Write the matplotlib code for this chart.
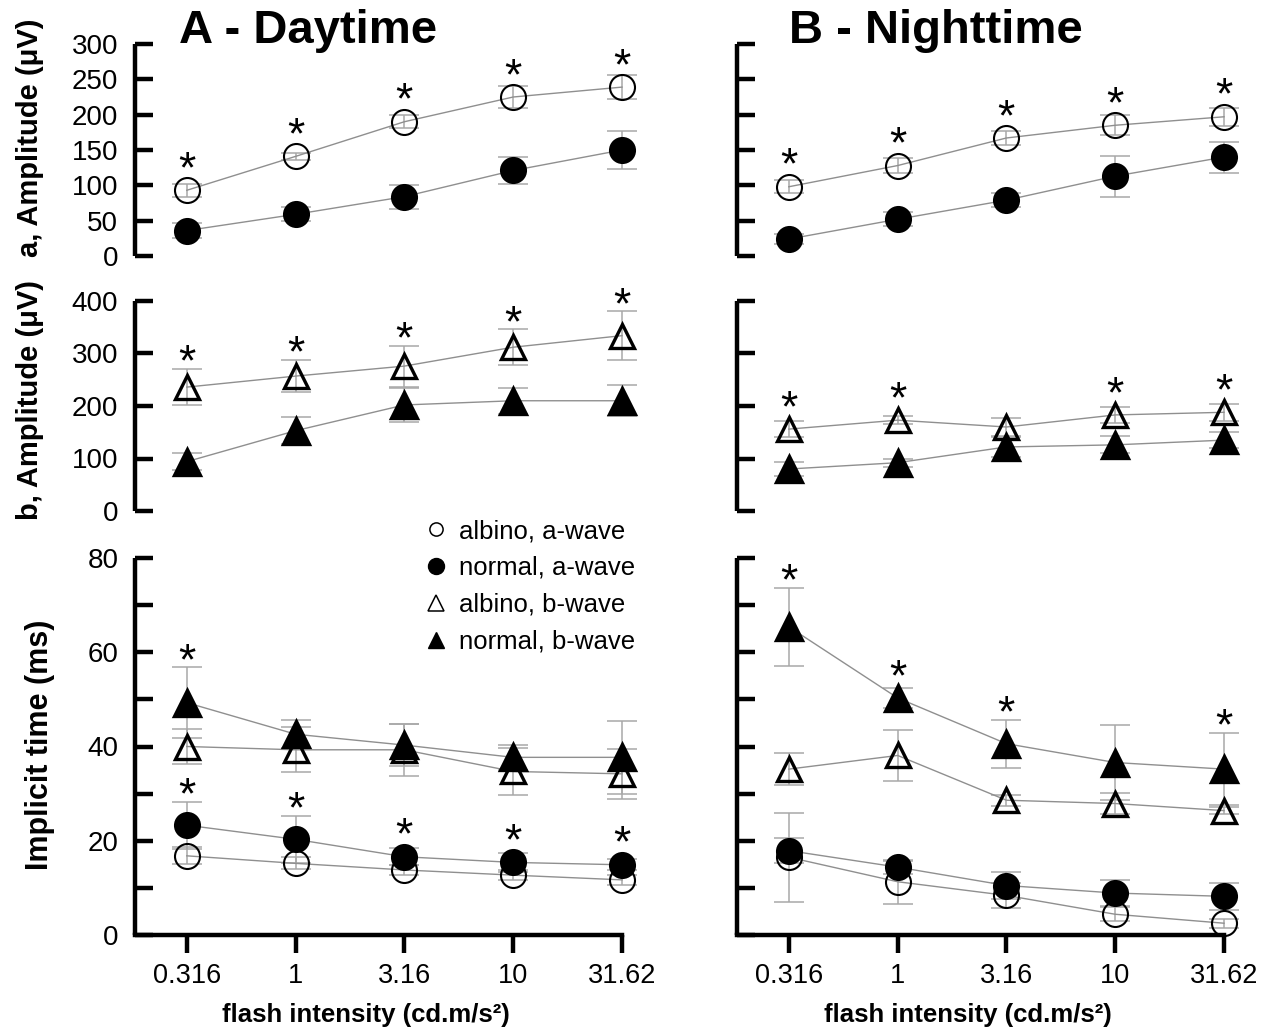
import numpy as np
import matplotlib
matplotlib.use('Agg')
import matplotlib.pyplot as plt
from matplotlib.lines import Line2D

# ---------------- data ----------------
intensity = [0.316, 1, 3.16, 10, 31.62]
intensity_labels = ['0.316', '1', '3.16', '10', '31.62']

# a-wave amplitude (uV)
day_a_albino = [93, 141, 190, 225, 239]
day_a_albino_err = [9, 5, 9, 15, 17]
day_a_normal = [36, 59, 84, 121, 150]
day_a_normal_err = [10, 10, 17, 19, 27]
night_a_albino = [98, 128, 167, 185, 197]
night_a_albino_err = [9, 10, 10, 14, 13]
night_a_normal = [24, 52, 79, 113, 140]
night_a_normal_err = [7, 10, 10, 29, 22]

# b-wave amplitude (uV)
day_b_albino = [236, 257, 276, 312, 334]
day_b_albino_err = [35, 31, 39, 34, 46]
day_b_normal = [94, 153, 202, 210, 210]
day_b_normal_err = [16, 26, 33, 25, 30]
night_b_albino = [156, 173, 160, 183, 188]
night_b_albino_err = [15, 8, 17, 15, 16]
night_b_normal = [80, 92, 122, 126, 135]
night_b_normal_err = [14, 8, 19, 16, 15]

# implicit time (ms)
it_day_a_albino = [16.8, 15.2, 13.8, 12.7, 11.7]
it_day_a_albino_err = [1.8, 1.3, 1.0, 1.0, 1.0]
it_day_a_normal = [23.3, 20.3, 16.6, 15.4, 14.9]
it_day_a_normal_err = [5.0, 5.0, 1.8, 2.0, 1.2]
it_day_b_albino = [40.0, 39.3, 39.3, 34.7, 34.2]
it_day_b_albino_err = [3.8, 4.8, 5.5, 5.0, 5.3]
it_day_b_normal = [49.3, 42.6, 40.3, 37.7, 37.7]
it_day_b_normal_err = [7.6, 3.0, 4.5, 2.7, 7.8]
it_night_a_albino = [16.5, 11.3, 8.4, 4.4, 2.5]
it_night_a_albino_err = [9.4, 4.7, 2.6, 1.5, 1.0]
it_night_a_normal = [17.9, 14.4, 10.5, 8.9, 8.2]
it_night_a_normal_err = [2.6, 1.4, 2.8, 2.8, 2.8]
it_night_b_albino = [35.2, 38.1, 28.6, 27.9, 26.4]
it_night_b_albino_err = [3.4, 5.4, 1.2, 2.2, 0.7]
it_night_b_normal = [65.4, 50.3, 40.6, 36.6, 35.2]
it_night_b_normal_err = [8.3, 2.1, 5.1, 8.0, 7.7]

# significance markers (*)
sig_day_a = [1, 1, 1, 1, 1]
sig_night_a = [1, 1, 1, 1, 1]
sig_day_b = [1, 1, 1, 1, 1]
sig_night_b = [1, 1, 0, 1, 1]
sig_it_day_a = [1, 1, 1, 1, 1]
sig_it_day_b = [1, 0, 0, 0, 0]
sig_it_night_a = [0, 0, 0, 0, 0]
sig_it_night_b = [1, 1, 1, 0, 1]

legend_labels = ['albino, a-wave', 'normal, a-wave', 'albino, b-wave', 'normal, b-wave']

# ---------------- style ----------------
NARROW = ['Liberation Sans Narrow', 'Liberation Sans', 'DejaVu Sans']
WIDE = ['Liberation Sans', 'DejaVu Sans']
plt.rcParams['font.family'] = NARROW

W, H, DPI = 1269, 1036, 100
fig = plt.figure(figsize=(W / DPI, H / DPI), dpi=DPI)
PX = 72.0 / DPI  # points per pixel

def box(x0, y0, x1, y1):
    return [x0 / W, 1 - y1 / H, (x1 - x0) / W, (y1 - y0) / H]

cols = [(135, 622), (737, 1224)]
rows = [(44, 256), (301, 511), (558, 935)]

XMIN = 10 ** (-0.5 - 52 / 218.0)
XMAX = 31.62

LINE_C = '#8f8f8f'
ERR_C = '#a8a8a8'
STAR_SIZE = 32

def series(ax, y, e, marker, filled, ms):
    ax.errorbar(intensity, y, yerr=e, fmt='none', ecolor=ERR_C, elinewidth=1.1,
                capsize=10.5, capthick=1.1, zorder=2, clip_on=False)
    ax.plot(intensity, y, '-', color=LINE_C, lw=1.0, zorder=3, clip_on=False)
    ax.plot(intensity, y, linestyle='none', marker=marker, ms=ms,
            mfc='black' if filled else 'none', mec='black',
            mew=1.5 if marker == 'o' else 2.4, zorder=4, clip_on=False)

def stars(ax, y, e, sig):
    for xi, yi, ei, s in zip(intensity, y, e, sig):
        if not s:
            continue
        _, ypx = ax.transData.transform((xi, yi))
        _, tpx = ax.transData.transform((xi, yi + ei))
        center = max(tpx - ypx + 17, 32)  # pixels above marker centre
        ax.annotate('*', xy=(xi, yi), xytext=(0, (center - 24) * PX),
                    textcoords='offset points', ha='center', va='baseline',
                    fontsize=STAR_SIZE, family=WIDE, clip_on=False, zorder=5)

def style(ax, ylim, yticks, minor=None, labels=True, xaxis=False):
    ax.set_xscale('log')
    ax.set_xlim(XMIN, XMAX)
    ax.set_ylim(*ylim)
    ax.patch.set_alpha(0)
    for s in ['top', 'right']:
        ax.spines[s].set_visible(False)
    ax.spines['left'].set_linewidth(3.2)
    ax.spines['left'].set_capstyle('butt')
    ax.set_yticks(yticks)
    if minor is not None:
        ax.set_yticks(minor, minor=True)
    else:
        ax.set_yticks([], minor=True)
    ax.tick_params(axis='y', which='both', direction='in', length=13, width=3.2,
                   pad=12, labelsize=20)
    if not labels:
        ax.set_yticklabels([])
    if xaxis:
        ax.spines['bottom'].set_linewidth(3.2)
        ax.set_xticks(intensity)
        ax.set_xticklabels(intensity_labels)
        ax.set_xticks([], minor=True)
        ax.tick_params(axis='x', which='major', direction='out', length=13, width=3.2,
                       pad=7, labelsize=19.5)
        ax.set_xlabel('flash intensity (cd.m/s²)', fontsize=18.5, fontweight='bold',
                      labelpad=16)
        ax.xaxis.set_label_coords(0.475, -0.18)
    else:
        ax.spines['bottom'].set_visible(False)
        ax.set_xticks([])
        ax.set_xticks([], minor=True)

axes = {}
for ci, (x0, x1) in enumerate(cols):
    for ri, (y0, y1) in enumerate(rows):
        axes[(ri, ci)] = fig.add_axes(box(x0, y0, x1, y1))

# top row: a-wave amplitude
for ci, (alb, albe, nor, nore, sig) in enumerate([
        (day_a_albino, day_a_albino_err, day_a_normal, day_a_normal_err, sig_day_a),
        (night_a_albino, night_a_albino_err, night_a_normal, night_a_normal_err, sig_night_a)]):
    ax = axes[(0, ci)]
    style(ax, (0, 300), [0, 50, 100, 150, 200, 250, 300], labels=(ci == 0))
    series(ax, alb, albe, 'o', False, 18)
    series(ax, nor, nore, 'o', True, 18)
    stars(ax, alb, albe, sig)

# middle row: b-wave amplitude
for ci, (alb, albe, nor, nore, sig) in enumerate([
        (day_b_albino, day_b_albino_err, day_b_normal, day_b_normal_err, sig_day_b),
        (night_b_albino, night_b_albino_err, night_b_normal, night_b_normal_err, sig_night_b)]):
    ax = axes[(1, ci)]
    style(ax, (0, 400), [0, 100, 200, 300, 400], labels=(ci == 0))
    series(ax, alb, albe, '^', False, 17)
    series(ax, nor, nore, '^', True, 19)
    stars(ax, alb, albe, sig)

# bottom row: implicit time
for ci, (aa, aae, an, ane, ba, bae, bn, bne, sa, sb) in enumerate([
        (it_day_a_albino, it_day_a_albino_err, it_day_a_normal, it_day_a_normal_err,
         it_day_b_albino, it_day_b_albino_err, it_day_b_normal, it_day_b_normal_err,
         sig_it_day_a, sig_it_day_b),
        (it_night_a_albino, it_night_a_albino_err, it_night_a_normal, it_night_a_normal_err,
         it_night_b_albino, it_night_b_albino_err, it_night_b_normal, it_night_b_normal_err,
         sig_it_night_a, sig_it_night_b)]):
    ax = axes[(2, ci)]
    if ci == 0:
        style(ax, (0, 80), [0, 20, 40, 60, 80], minor=[10, 30, 50, 70], xaxis=True)
    else:
        style(ax, (0, 80), list(range(0, 81, 10)), labels=False, xaxis=True)
    series(ax, ba, bae, '^', False, 17)
    series(ax, bn, bne, '^', True, 19)
    series(ax, aa, aae, 'o', False, 18)
    series(ax, an, ane, 'o', True, 18)
    stars(ax, an, ane, sa)
    stars(ax, bn, bne, sb)

# y labels
fig.text(30 / W, 1 - 138 / H, 'a, Amplitude (μV)', rotation=90, ha='center', va='center',
         fontsize=21, fontweight='bold', family=WIDE)
fig.text(30 / W, 1 - 400 / H, 'b, Amplitude (μV)', rotation=90, ha='center', va='center',
         fontsize=21, fontweight='bold', family=WIDE)
fig.text(40 / W, 1 - 745 / H, 'Implicit time (ms)', rotation=90, ha='center', va='center',
         fontsize=22, fontweight='bold', family=WIDE)

# titles
fig.text(308 / W, 1 - 31 / H, 'A - Daytime', ha='center', va='center',
         fontsize=34, fontweight='bold', family=WIDE)
fig.text(936 / W, 1 - 31 / H, 'B - Nighttime', ha='center', va='center',
         fontsize=34, fontweight='bold', family=WIDE)

# legend
handles = [
    Line2D([], [], ls='none', marker='o', ms=9.5, mfc='none', mec='black', mew=1.1),
    Line2D([], [], ls='none', marker='o', ms=11.5, mfc='black', mec='black'),
    Line2D([], [], ls='none', marker='^', ms=11, mfc='none', mec='black', mew=1.1),
    Line2D([], [], ls='none', marker='^', ms=11.5, mfc='black', mec='black'),
]
axes[(2, 0)].legend(handles, legend_labels, loc='upper left',
                    bbox_to_anchor=(426 / W, 1 - 519 / H), bbox_transform=fig.transFigure,
                    frameon=False, fontsize=18.5, handlelength=0.8, handletextpad=0.5,
                    labelspacing=0.5, borderpad=0, borderaxespad=0)

fig.savefig('out.png', dpi=DPI)
